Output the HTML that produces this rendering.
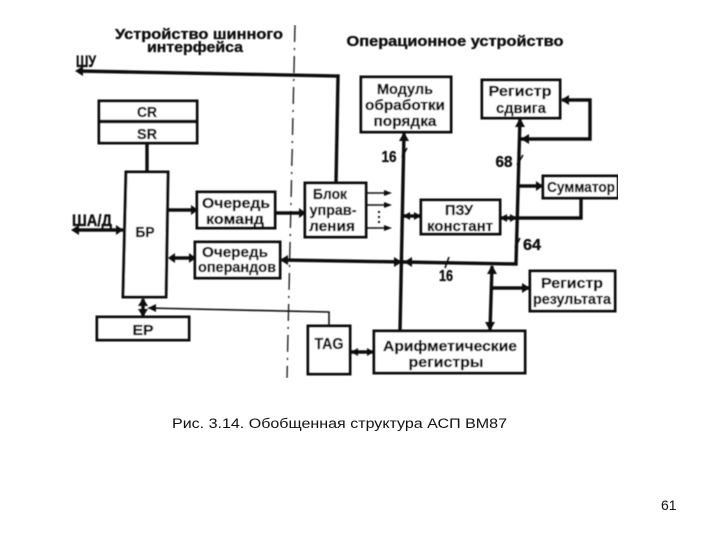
<!DOCTYPE html>
<html lang="ru"><head><meta charset="utf-8"><title>Обобщенная структура АСП ВМ87</title>
<style>
html,body{margin:0;padding:0;background:#fff;width:720px;height:540px;overflow:hidden}
svg{display:block}
text{font-family:"Liberation Sans",sans-serif;fill:#111}
.d text{font-weight:bold;font-size:15px;text-anchor:middle;stroke:#111;stroke-width:.35}
.b{fill:#fff;stroke:#111;stroke-width:3}
.l{fill:none;stroke:#111;stroke-width:3.4}
.t{fill:none;stroke:#111;stroke-width:1.6}
.a{fill:#111;stroke:none}
</style></head><body>
<svg width="720" height="540" viewBox="0 0 720 540" xmlns="http://www.w3.org/2000/svg">
<defs><filter id="s" x="0" y="0" width="100%" height="100%"><feGaussianBlur stdDeviation="0.4"/></filter></defs>
<g class="d" filter="url(#s)">
<!-- separator -->
<path d="M295 25L287 378" fill="none" stroke="#222" stroke-width="1.4" stroke-dasharray="17 6 2 6"/>
<!-- connectors -->
<path class="l" d="M78 71L338 76L336 184"/>
<path class="l" d="M147 143V172"/>
<path class="l" d="M168 210H197"/>
<path class="l" d="M275 213H305"/>
<path class="l" d="M76 230H123"/>
<path class="l" d="M170 258H195"/>
<path class="l" d="M282 260L403 262L516 264L520 118"/>
<path class="l" d="M404 132L400 331"/>
<path class="l" d="M403 216H421"/>
<path class="l" d="M500 218H581V198"/>
<path class="l" d="M519 186H543"/>
<path class="l" d="M521 139L590 139V100H562"/>
<path class="l" d="M492 266L490 331"/>
<path class="l" d="M492 288H530"/>
<path class="l" d="M143 299V317"/>
<path class="l" d="M351 352H374"/>
<path class="t" d="M148 308L329 312V326"/>
<path class="t" d="M367 193H388M367 205H388M367 228H388"/>
<path d="M379 211V226" fill="none" stroke="#111" stroke-width="2" stroke-dasharray="2 3"/>
<!-- arrowheads -->
<g class="a">
<path d="M75 71L83 66V76Z"/>
<path d="M198 210L191 205V215Z"/><path d="M306 213L299 208V218Z"/>
<path d="M123 230L116 225V235Z"/><path d="M71 230L79 225V235Z"/>
<path d="M168 258L175 253V263Z"/><path d="M196 258L189 253V263Z"/>
<path d="M280 260L288 255V265Z"/>
<path d="M404 132L399 141H409Z"/><path d="M520 118L515 127H525Z"/>
<path d="M561 100L569 95V105Z"/><path d="M521 139L529 134V144Z"/>
<path d="M543 186L536 181V191Z"/>
<path d="M403 216L410 212V220Z"/><path d="M421 216L414 212V220Z"/>
<path d="M500 218L507 214V222Z"/><path d="M517 218L510 214V222Z"/>
<path d="M402 262L394 257V267Z"/><path d="M404 262L412 257V267Z"/>
<path d="M492 265L487 274H497Z"/><path d="M490 331L485 322H495Z"/>
<path d="M530 288L522 283V293Z"/>
<path d="M143 298L138 306H148Z"/><path d="M143 317L138 309H148Z"/>
<path d="M148 308L156 304V312Z"/>
<path d="M351 352L358 348V356Z"/><path d="M374 352L367 348V356Z"/>
<path d="M392 193L384 190V196ZM392 205L384 202V208ZM392 228L384 225V231Z"/>
</g>
<!-- boxes -->
<rect class="b" x="99" y="101" width="98" height="42"/><path class="l" d="M99 121.500H197"/>
<path class="b" d="M126 172H168L166 297H123Z"/>
<rect class="b" x="197" y="192" width="78" height="36"/>
<rect class="b" x="195" y="242" width="85" height="36"/>
<rect class="b" x="97" y="317" width="92" height="23"/>
<rect class="b" x="308" y="326" width="42" height="48"/>
<rect class="b" x="305" y="183" width="61" height="54"/>
<rect class="b" x="361" y="77" width="90" height="55"/>
<rect class="b" x="482" y="80" width="78" height="38"/>
<rect class="b" x="543" y="176" width="75" height="22"/>
<rect class="b" x="421" y="200" width="79" height="34"/>
<rect class="b" x="530" y="271" width="85" height="40"/>
<rect class="b" x="374" y="331" width="151" height="42"/>
<!-- slashes -->
<path class="t" d="M402 157L407 148M517 165L523 155M515 248L520 238M445 268L449 257"/>
<!-- labels -->
<text x="199" y="39" textLength="168" lengthAdjust="spacingAndGlyphs">Устройство шинного</text>
<text x="195" y="52" textLength="96" lengthAdjust="spacingAndGlyphs">интерфейса</text>
<text x="455" y="46" textLength="217" lengthAdjust="spacingAndGlyphs">Операционное устройство</text>
<text x="86" y="67" font-size="17" style="font-size:17px" textLength="20" lengthAdjust="spacingAndGlyphs">ШУ</text>
<text x="92" y="226" style="font-size:17px" textLength="40" lengthAdjust="spacingAndGlyphs">ША/Д</text>
<text x="147" y="117" textLength="20" lengthAdjust="spacingAndGlyphs">CR</text>
<text x="147" y="139" textLength="20" lengthAdjust="spacingAndGlyphs">SR</text>
<text x="145" y="237" textLength="19" lengthAdjust="spacingAndGlyphs">БР</text>
<text x="236" y="208" textLength="68" lengthAdjust="spacingAndGlyphs">Очередь</text>
<text x="235" y="224" textLength="58" lengthAdjust="spacingAndGlyphs">команд</text>
<text x="235" y="257" textLength="66" lengthAdjust="spacingAndGlyphs">Очередь</text>
<text x="237" y="272" textLength="78" lengthAdjust="spacingAndGlyphs">операндов</text>
<text x="143" y="335" textLength="21" lengthAdjust="spacingAndGlyphs">ЕР</text>
<text x="329" y="349" style="font-size:16px" textLength="29" lengthAdjust="spacingAndGlyphs">TAG</text>
<text x="330" y="199" textLength="34" lengthAdjust="spacingAndGlyphs">Блок</text>
<text x="333" y="215" textLength="47" lengthAdjust="spacingAndGlyphs">управ-</text>
<text x="332" y="231" textLength="46" lengthAdjust="spacingAndGlyphs">ления</text>
<text x="405" y="94" textLength="56" lengthAdjust="spacingAndGlyphs">Модуль</text>
<text x="405" y="110" textLength="80" lengthAdjust="spacingAndGlyphs">обработки</text>
<text x="405" y="126" textLength="63" lengthAdjust="spacingAndGlyphs">порядка</text>
<text x="520" y="96" textLength="63" lengthAdjust="spacingAndGlyphs">Регистр</text>
<text x="521" y="113" textLength="50" lengthAdjust="spacingAndGlyphs">сдвига</text>
<text x="581" y="192" textLength="68" lengthAdjust="spacingAndGlyphs">Сумматор</text>
<text x="459" y="215" textLength="28" lengthAdjust="spacingAndGlyphs">ПЗУ</text>
<text x="460" y="231" textLength="66" lengthAdjust="spacingAndGlyphs">констант</text>
<text x="572" y="288" textLength="62" lengthAdjust="spacingAndGlyphs">Регистр</text>
<text x="572" y="304" textLength="78" lengthAdjust="spacingAndGlyphs">результата</text>
<text x="450" y="351" textLength="134" lengthAdjust="spacingAndGlyphs">Арифметические</text>
<text x="446" y="367" textLength="75" lengthAdjust="spacingAndGlyphs">регистры</text>
<text x="389" y="162" style="font-size:16px" textLength="15" lengthAdjust="spacingAndGlyphs">16</text>
<text x="504" y="167" style="font-size:16px" textLength="17" lengthAdjust="spacingAndGlyphs">68</text>
<text x="532" y="250" style="font-size:16px" textLength="18" lengthAdjust="spacingAndGlyphs">64</text>
<text x="446" y="281" style="font-size:16px" textLength="14" lengthAdjust="spacingAndGlyphs">16</text>
</g>
<text x="172" y="428" font-size="13.500" textLength="335" lengthAdjust="spacingAndGlyphs">Рис. 3.14. Обобщенная структура АСП ВМ87</text>
<text x="661" y="510" font-size="14">61</text>
</svg>
</body></html>
